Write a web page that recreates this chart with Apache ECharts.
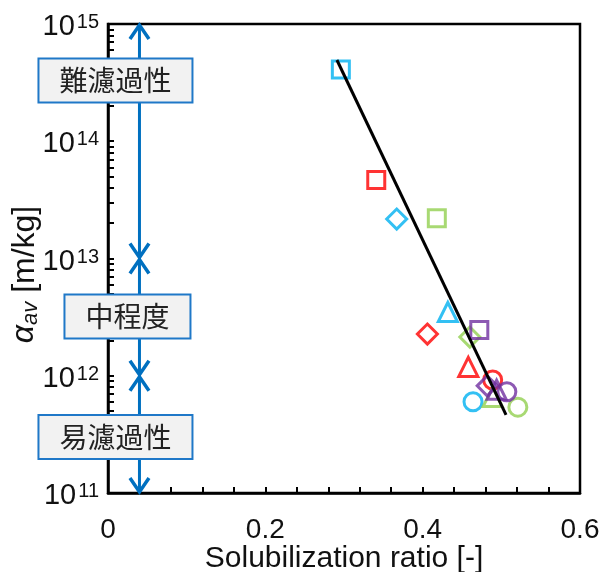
<!DOCTYPE html>
<html>
<head>
<meta charset="utf-8">
<script src="https://cdn.jsdelivr.net/npm/echarts@6/dist/echarts.min.js"></script>
<style>
  html, body { margin: 0; padding: 0; background: #fff; }
  #chart { width: 605px; height: 572px; }
</style>
</head>
<body>
<div id="chart"></div>
<script>
// Specific cake resistance vs. solubilization ratio (four samples, four conditions each)
const xTicks = [0, 0.04, 0.08, 0.12, 0.16, 0.2, 0.24, 0.28, 0.32, 0.36, 0.4, 0.44, 0.48, 0.52, 0.56, 0.6];
const xLabels = [0, 0.2, 0.4, 0.6];
const yDecades = [1e11, 1e12, 1e13, 1e14, 1e15];

// marker shapes per condition: square, diamond, triangle, circle
const shapes = ['rect', 'diamond', 'triangle', 'circle'];
const shapeSizes = [17, 20, 19, 18];

// [solubilization ratio, alpha_av] for each condition, in shape order
const sampleCyan   = [[0.296, 4.1e14], [0.367, 2.17e13], [0.432, 3.5e12], [0.464, 6.0e11]];
const sampleRed    = [[0.341, 4.67e13], [0.406, 2.27e12], [0.458, 1.19e12], [0.489, 9.2e11]];
const sampleGreen  = [[0.418, 2.2e13], [0.460, 2.14e12], [0.489, 6.6e11], [0.521, 5.4e11]];
const samplePurple = [[0.472, 2.45e12], [0.482, 8.2e11], [0.494, 7.6e11], [0.507, 7.3e11]];

// fitted trend line end points
const fitLine = [[0.291, 4.93e14], [0.506, 4.63e11]];

// filterability classes: arrow spans and labels
const classX = 0.04;
const classSpans = [[1e15, 1e13], [1e13, 1e12], [1e12, 1e11]];
const classNames = ['難濾過性', '中程度', '易濾過性'];
const classLabelY = [3.3e14, 3.2e12, 3.0e11];

const samples = [
  { data: sampleCyan, color: '#00b0f0' },
  { data: sampleRed, color: '#ff0000' },
  { data: sampleGreen, color: '#92d050' },
  { data: samplePurple, color: '#7030a0' }
];

// log ticks at 1..9 x 10^n; pulled a hair inside the extent so the end values survive float rounding
const inside = v => (v >= 1e15 ? v * 0.9999999 : (v <= 1e11 ? v * 1.0000001 : v));
const yTicks = [];
for (let e = 11; e < 15; e++) {
  for (let m = 1; m <= 9; m++) yTicks.push(inside(m * Math.pow(10, e)));
}
yTicks.push(inside(1e15));
const yLabelValues = yDecades.map(inside);

const axisFont = 'Liberation Sans, Arial, sans-serif';
const cjkFont = '"Noto Sans CJK JP", "Noto Sans CJK SC", sans-serif';
const arrowBlue = '#0070c0';

// double-headed vertical arrow between two y values
function renderArrow(params, api) {
  const x = api.value(0);
  const pTop = api.coord([x, api.value(1)]);
  const pBot = api.coord([x, api.value(2)]);
  const hw = 9.5, hh = 15;
  const style = { stroke: arrowBlue, lineWidth: 3.5, fill: null, lineJoin: 'miter', lineCap: 'butt' };
  return {
    type: 'group',
    children: [
      { type: 'line', shape: { x1: pTop[0], y1: pTop[1], x2: pBot[0], y2: pBot[1] }, style: { stroke: arrowBlue, lineWidth: 3 } },
      { type: 'polyline', shape: { points: [[pTop[0] - hw, pTop[1] + hh], [pTop[0], pTop[1] + 1], [pTop[0] + hw, pTop[1] + hh]] }, style: style },
      { type: 'polyline', shape: { points: [[pBot[0] - hw, pBot[1] - hh], [pBot[0], pBot[1] - 1], [pBot[0] + hw, pBot[1] - hh]] }, style: style }
    ]
  };
}

const series = [];

series.push({
  type: 'custom',
  z: 3,
  clip: false,
  silent: true,
  encode: { x: 0, y: [1, 2] },
  renderItem: renderArrow,
  data: classSpans.map(s => [classX, s[0], s[1]]),
  markPoint: {
    silent: true,
    symbol: 'rect',
    symbolSize: 1,
    itemStyle: { color: 'rgba(0,0,0,0)' },
    data: classNames.map((n, i) => ({
      coord: [classX, classLabelY[i]],
      value: n,
      label: {
        show: true,
        position: 'inside',
        offset: [i === 1 ? -12 : -24, 0],
        formatter: n,
        fontFamily: cjkFont,
        fontSize: 28,
        lineHeight: 28,
        color: '#222',
        backgroundColor: '#f2f2f2',
        borderColor: '#1f78c8',
        borderWidth: 2,
        padding: [7, 20, 7, 20]
      }
    }))
  }
});

samples.forEach(s => {
  s.data.forEach((pt, k) => {
    series.push({
      type: 'scatter',
      z: 4,
      symbol: shapes[k],
      symbolSize: shapeSizes[k],
      itemStyle: { color: 'rgba(0,0,0,0)', borderColor: s.color, borderWidth: 3 },
      data: [pt]
    });
  });
});

series.push({
  type: 'line',
  z: 5,
  data: fitLine,
  symbol: 'none',
  lineStyle: { color: '#000', width: 3 }
});

const chart = echarts.init(document.getElementById('chart'), null, { renderer: 'canvas' });
chart.setOption({
  animation: false,
  grid: {
    left: 108, right: 25, top: 24, bottom: 79,
    outerBoundsMode: 'none',
    containLabel: false,
    show: true, borderColor: '#000', borderWidth: 2.5, backgroundColor: 'transparent'
  },
  xAxis: {
    type: 'value',
    min: 0, max: 0.6,
    name: 'Solubilization ratio [-]',
    nameLocation: 'middle',
    nameGap: 51,
    nameMoveOverlap: false,
    nameTextStyle: { fontFamily: axisFont, fontSize: 30, color: '#111' },
    axisLine: { show: true, lineStyle: { color: '#000', width: 2.5 } },
    axisTick: { show: true, inside: true, length: 6, lineStyle: { color: '#000', width: 2 }, customValues: xTicks },
    axisLabel: {
      fontFamily: axisFont, fontSize: 28, color: '#111', margin: 23,
      customValues: xLabels,
      formatter: v => (v === 0 ? '0' : String(+v.toFixed(1)))
    },
    splitLine: { show: false }
  },
  yAxis: {
    type: 'log',
    logBase: 10,
    min: 1e11, max: 1e15,
    name: '{a|α}{s|av} [m/kg]',
    nameLocation: 'middle',
    nameGap: 66,
    nameMoveOverlap: false,
    nameRotate: 90,
    nameTextStyle: {
      fontFamily: axisFont, fontSize: 32, color: '#111', padding: [0, 32, 0, 0],
      rich: {
        a: { fontFamily: axisFont, fontSize: 32, fontStyle: 'italic', color: '#111', verticalAlign: 'top' },
        s: { fontFamily: axisFont, fontSize: 22, fontStyle: 'italic', color: '#111', verticalAlign: 'bottom', padding: [12, 0, 0, 0] }
      }
    },
    axisLine: { show: true, lineStyle: { color: '#000', width: 2.5 } },
    axisTick: { show: true, inside: true, length: 6, lineStyle: { color: '#000', width: 2 }, customValues: yTicks },
    axisLabel: {
      margin: 9,
      customValues: yLabelValues,
      padding: [6, 0, 0, 0],
      formatter: v => '{b|10}{e|' + Math.round(Math.log10(v)) + '}',
      rich: {
        b: { fontFamily: axisFont, fontSize: 29, lineHeight: 29, color: '#111', verticalAlign: 'bottom', padding: [2, 0, 0, 0] },
        e: { fontFamily: axisFont, fontSize: 20, lineHeight: 20, color: '#111', verticalAlign: 'top', padding: [0, 0, 0, 2] }
      }
    },
    splitLine: { show: false }
  },
  series: series
});
</script>
</body>
</html>
